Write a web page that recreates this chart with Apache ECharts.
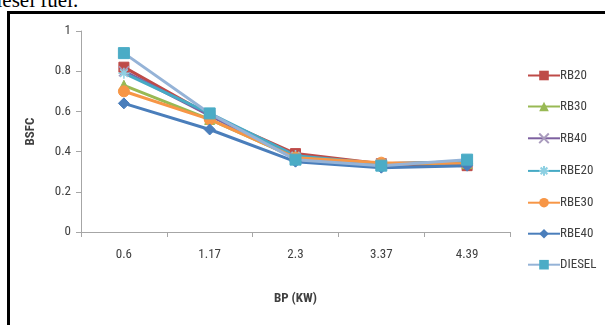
<!DOCTYPE html>
<html>
<head>
<meta charset="utf-8">
<script src="https://cdn.jsdelivr.net/npm/echarts@6/dist/echarts.min.js"></script>
<style>
  html, body { margin: 0; padding: 0; background: #fff; }
  #wrap { position: relative; width: 605px; height: 325px; overflow: hidden; }
  #caption { position: absolute; left: -14px; top: -12px; font-family: 'Liberation Serif', 'DejaVu Serif', serif; font-size: 21px; color: #000; white-space: nowrap; }
  #frame { position: absolute; left: 7px; top: 11px; width: 620px; height: 330px; border-top: 3px solid #000; border-left: 3px solid #000; box-sizing: border-box; }
  #chart { position: absolute; left: 0; top: 0; width: 605px; height: 325px; }
</style>
</head>
<body>
<div id="wrap">
  <div id="caption">diesel fuel.</div>
  <div id="frame"></div>
  <div id="chart"></div>
</div>
<script>
// Brake power (kW) and brake specific fuel consumption per blend
const categories = ['0.6', '1.17', '2.3', '3.37', '4.39'];
const rb20   = [0.82, 0.58, 0.39, 0.34, 0.33];
const rb30   = [0.73, 0.56, 0.37, 0.34, 0.34];
const rb40   = [0.80, 0.58, 0.37, 0.34, 0.35];
const rbe20  = [0.79, 0.59, 0.38, 0.34, 0.35];
const rbe30  = [0.70, 0.56, 0.37, 0.345, 0.34];
const rbe40  = [0.64, 0.51, 0.35, 0.32, 0.33];
const diesel = [0.89, 0.59, 0.36, 0.33, 0.36];
const yTicks = [0, 0.2, 0.4, 0.6, 0.8, 1];

const fontFam = "'Liberation Sans Narrow', 'Roboto Condensed', 'Open Sans', 'Noto Sans', sans-serif";
const crossPath = 'path://M0,0L10,10M10,0L0,10';
const starPath = 'path://M5,0L5,10M0,5L10,5M1.5,1.5L8.5,8.5M8.5,1.5L1.5,8.5';

function mk(name, data, lineColor, markColor, symbol, size, extra) {
  return Object.assign({
    name: name,
    type: 'line',
    data: data,
    symbol: symbol,
    symbolSize: size,
    lineStyle: { color: lineColor, width: 3 },
    itemStyle: { color: markColor, borderColor: markColor },
    color: lineColor
  }, extra || {});
}

const series = [
  mk('RB20', rb20, '#BE4B48', '#BE4B48', 'rect', 10),
  mk('RB30', rb30, '#98B954', '#98B954', 'triangle', 10),
  mk('RB40', rb40, '#7D60A0', '#A99BBD', crossPath, 10, { itemStyle: { color: 'none', borderColor: '#A99BBD', borderWidth: 1.5 } }),
  mk('RBE20', rbe20, '#46AAC5', '#8ED0E2', starPath, 11, { itemStyle: { color: 'none', borderColor: '#8ED0E2', borderWidth: 1.5 } }),
  mk('RBE30', rbe30, '#F79646', '#F79646', 'circle', 11),
  mk('RBE40', rbe40, '#4A7EBB', '#4A7EBB', 'diamond', 11),
  mk('DIESEL', diesel, '#95B3D7', '#4BACC6', 'rect', 11)
];

const chart = echarts.init(document.getElementById('chart'), null, { renderer: 'canvas' });
chart.setOption({
  animation: false,
  backgroundColor: 'transparent',
  textStyle: { fontFamily: fontFam },
  grid: { left: 81, right: 95, top: 31, bottom: 93, containLabel: false },
  legend: {
    orient: 'vertical',
    left: 522,
    top: 64,
    itemGap: 18,
    itemWidth: 32,
    itemHeight: 12,
    textStyle: { fontSize: 13, color: '#404040', fontFamily: fontFam, padding: [0, 0, 0, -5] },
    data: series.map(s => s.name)
  },
  xAxis: {
    type: 'category',
    data: categories,
    boundaryGap: true,
    name: 'BP (KW)',
    nameLocation: 'middle',
    nameGap: 60,
    nameTextStyle: { fontSize: 13, fontWeight: 'bold', color: '#404040', fontFamily: fontFam },
    axisLine: { lineStyle: { color: '#A6A6A6', width: 1 } },
    axisTick: { show: true, alignWithLabel: false, length: 5, lineStyle: { color: '#A6A6A6' } },
    axisLabel: { fontSize: 13, color: '#404040', margin: 16 },
    splitLine: { show: false }
  },
  yAxis: {
    type: 'value',
    min: 0,
    max: 1,
    interval: 0.2,
    name: 'BSFC',
    nameLocation: 'middle',
    nameGap: 44,
    nameRotate: 90,
    nameTextStyle: { fontSize: 13, fontWeight: 'bold', color: '#404040', fontFamily: fontFam },
    axisLine: { show: true, lineStyle: { color: '#A6A6A6', width: 1 } },
    axisTick: { show: true, length: 5, lineStyle: { color: '#A6A6A6' } },
    axisLabel: {
      fontSize: 13, color: '#404040', margin: 10,
      formatter: v => {
        const t = yTicks.find(x => Math.abs(x - v) < 1e-9);
        return t === undefined ? '' : String(t);
      }
    },
    splitLine: { show: false }
  },
  series: series
});
</script>
</body>
</html>
